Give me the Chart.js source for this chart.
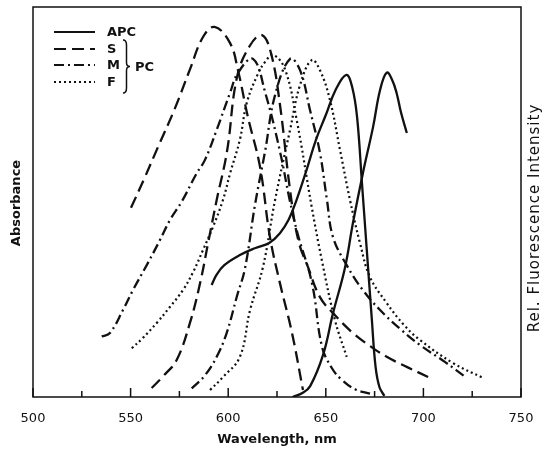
<!DOCTYPE html>
<html>
<head>
<meta charset="utf-8">
<script src="https://cdn.jsdelivr.net/npm/chart.js@4.4.0/dist/chart.umd.min.js"></script>
<style>
  html, body { margin: 0; padding: 0; background: #fff; }
  #wrap { width: 547px; height: 453px; }
</style>
</head>
<body>
<div id="wrap"><canvas id="grafico" width="547" height="453"></canvas></div>
<script>
// rótulos do eixo x (nm)
const ticksX = [500, 550, 600, 650, 700, 750];

// APC - absorção e emissão
const apcAbsNm  = [591.5, 594, 598, 606, 614, 621, 626.5, 631, 635, 640, 645, 650, 655, 660.5, 663.5, 666, 668.5, 671, 673.5, 675.5, 677.5, 680];
const apcAbsVal = [28.7, 31.3, 33.8, 36.4, 38.2, 39.5, 42, 45.5, 50.5, 58, 66, 72.3, 78.7, 82.6, 79.5, 71.9, 55, 37.7, 20.5, 7.7, 2.5, 0.3];
const apcEmNm   = [633, 638, 642, 648.6, 653.7, 659.8, 663.9, 669, 674.2, 677.8, 681.2, 684, 686.3, 688.5, 691.5];
const apcEmVal  = [0, 1, 2.8, 10.8, 21.5, 33.1, 44.6, 57.4, 69.2, 78.7, 83.2, 81.3, 77.9, 73, 67.7];

// PC S
const sAbsNm  = [550.2, 557, 563.5, 572.7, 580.4, 587.1, 593, 600.9, 605, 610, 616.3, 621.4, 626.5, 632.7, 638.3];
const sAbsVal = [48.5, 56, 63.5, 74, 84, 92.3, 94.9, 90.8, 83.8, 72, 59, 41, 29.2, 16.4, 1.8];
const sEmNm   = [560.8, 567, 573.6, 580.4, 585.6, 589.7, 594.1, 599.4, 604.5, 611, 617.3, 622, 626.5, 631.7, 636, 640.9, 647, 653.7, 663.9, 672, 681.2, 692, 703.4];
const sEmVal  = [2.3, 5.5, 9.5, 19, 29.2, 39.5, 50.5, 63, 82, 90, 92.8, 88, 75, 53, 40, 33.3, 25.6, 21.5, 16.4, 13.3, 10.3, 7.6, 4.9];

// PC M
const mAbsNm  = [535.2, 539.4, 546.1, 551.2, 558.9, 565.1, 570.2, 576.2, 583.9, 588.1, 594.1, 600.9, 605, 612.7, 619, 626.5, 631.5, 635.5, 643, 648, 653, 658, 665, 673];
const mAbsVal = [15.5, 16.4, 22.3, 27.4, 34.4, 40.3, 45.4, 50.1, 57.4, 60.8, 68.5, 77.9, 83.1, 86.7, 78, 63, 50.5, 42, 29, 13, 7.5, 4.5, 2, 0.8];
const mEmNm   = [581.3, 588, 594.1, 599.2, 604.4, 608.6, 613.7, 618.9, 624, 631.7, 636.8, 641.9, 647, 650.6, 653.7, 660.7, 669, 677.8, 688, 698.3, 711, 722.2];
const mEmVal  = [2.2, 5.5, 10.3, 16.4, 25.7, 33, 49.2, 63, 77.4, 86.7, 83.8, 73.6, 62.6, 50.5, 41, 33.8, 27.4, 22.3, 17.5, 13.3, 9, 4.9];

// PC F
const fAbsNm  = [550.6, 556, 563.4, 570, 576.8, 582, 587.1, 592.2, 597.3, 601, 606, 609.5, 615, 619, 623.1, 629.1, 635.1, 642.8, 648, 654.7, 660.7];
const fAbsVal = [12.5, 15, 19, 23, 27.4, 32, 37.7, 43.6, 50.5, 57.4, 66, 75.4, 82.6, 86, 87.7, 84, 71, 48.7, 35, 19.7, 10.3];
const fEmNm   = [590.7, 597.5, 606, 611.2, 617.8, 624, 631.7, 636.8, 642.8, 647, 652.1, 657.3, 662.4, 667.5, 672.6, 681.2, 690, 698.3, 715.2, 730.5];
const fEmVal  = [1.8, 5.2, 10.3, 22.3, 33.3, 50.5, 68.5, 80, 86.4, 83.8, 76.2, 63.3, 50.5, 39.5, 30.8, 24.1, 18.5, 14.6, 8.7, 4.9];

const tracos = {
  solido: [],
  tracejado: [12, 6],
  tracoPonto: [10, 4, 2, 4],
  pontilhado: [2, 3]
};

function montarPontos(nm, val) {
  return nm.map((x, i) => ({ x: x, y: val[i] }));
}

function serie(nome, nm, val, dash) {
  return {
    label: nome,
    data: montarPontos(nm, val),
    borderColor: "#111",
    borderWidth: dash === tracos.pontilhado ? 2.2 : 2.3,
    borderDash: dash,
    pointRadius: 0,
    fill: false,
    tension: 0.4
  };
}

const fonte = "'DejaVu Sans', sans-serif";

// moldura, ticks para dentro, legenda com chave e títulos verticais
const molduraPlugin = {
  id: "moldura",
  afterDraw(chart) {
    const { ctx, chartArea: a, scales } = chart;
    ctx.save();
    ctx.strokeStyle = "#111";
    ctx.fillStyle = "#111";
    ctx.lineWidth = 1.5;
    ctx.setLineDash([]);
    ctx.strokeRect(a.left, a.top, a.right - a.left, a.bottom - a.top);

    scales.x.ticks.forEach((t) => {
      const px = scales.x.getPixelForValue(t.value);
      const len = t.value % 50 === 0 ? 9 : 6;
      ctx.beginPath();
      ctx.moveTo(px, a.bottom);
      ctx.lineTo(px, a.bottom - len);
      ctx.stroke();
    });

    // legenda
    const linhas = [
      { txt: "APC", dash: tracos.solido, y: 32 },
      { txt: "S", dash: tracos.tracejado, y: 49 },
      { txt: "M", dash: tracos.tracoPonto, y: 65 },
      { txt: "F", dash: tracos.pontilhado, y: 82 }
    ];
    ctx.font = "bold 13px " + fonte;
    ctx.textBaseline = "middle";
    ctx.textAlign = "left";
    linhas.forEach((l) => {
      ctx.lineWidth = 2;
      ctx.setLineDash(l.dash);
      ctx.beginPath();
      ctx.moveTo(54, l.y);
      ctx.lineTo(95, l.y);
      ctx.stroke();
      ctx.setLineDash([]);
      ctx.fillText(l.txt, 107, l.y + 1);
    });

    // chave "}"
    const bx = 123, topo = 40, base = 93, meio = 66.5, w = 7;
    ctx.lineWidth = 1.5;
    ctx.beginPath();
    ctx.moveTo(bx, topo);
    ctx.quadraticCurveTo(bx + w / 2, topo, bx + w / 2, topo + 5);
    ctx.lineTo(bx + w / 2, meio - 4);
    ctx.quadraticCurveTo(bx + w / 2, meio, bx + w, meio);
    ctx.quadraticCurveTo(bx + w / 2, meio, bx + w / 2, meio + 4);
    ctx.lineTo(bx + w / 2, base - 5);
    ctx.quadraticCurveTo(bx + w / 2, base, bx, base);
    ctx.stroke();
    ctx.fillText("PC", 135, meio + 1);

    // títulos verticais
    ctx.textAlign = "center";
    ctx.save();
    ctx.translate(17, 203);
    ctx.rotate(-Math.PI / 2);
    ctx.font = "bold 13px " + fonte;
    ctx.fillText("Absorbance", 0, 0);
    ctx.restore();

    ctx.save();
    ctx.translate(535, 218);
    ctx.rotate(-Math.PI / 2);
    ctx.font = "15px " + fonte;
    ctx.letterSpacing = "1px";
    ctx.fillText("Rel. Fluorescence Intensity", 0, 0);
    ctx.restore();

    ctx.restore();
  }
};

new Chart(document.getElementById("grafico"), {
  type: "line",
  data: {
    datasets: [
      serie("APC abs", apcAbsNm, apcAbsVal, tracos.solido),
      serie("APC em", apcEmNm, apcEmVal, tracos.solido),
      serie("S abs", sAbsNm, sAbsVal, tracos.tracejado),
      serie("S em", sEmNm, sEmVal, tracos.tracejado),
      serie("M abs", mAbsNm, mAbsVal, tracos.tracoPonto),
      serie("M em", mEmNm, mEmVal, tracos.tracoPonto),
      serie("F abs", fAbsNm, fAbsVal, tracos.pontilhado),
      serie("F em", fEmNm, fEmVal, tracos.pontilhado)
    ]
  },
  options: {
    responsive: false,
    animation: false,
    layout: { padding: { left: 33, right: 26, top: 7, bottom: 0 } },
    plugins: { legend: { display: false }, tooltip: { enabled: false } },
    scales: {
      x: {
        type: "linear",
        min: 500,
        max: 750,
        ticks: {
          stepSize: 25,
          autoSkip: false,
          maxRotation: 0,
          padding: 6,
          color: "#111",
          font: { family: fonte, size: 13 },
          callback: (v) => (ticksX.includes(v) ? String(v) : "")
        },
        grid: { display: false },
        border: { display: false },
        title: {
          display: true,
          text: "Wavelength, nm",
          color: "#111",
          font: { family: fonte, size: 13, weight: "bold" },
          padding: { top: 0, bottom: 6 }
        },
        afterFit: (s) => { s.height = 56; }
      },
      y: { min: 0, max: 100, display: false }
    }
  },
  plugins: [molduraPlugin]
});
</script>
</body>
</html>
